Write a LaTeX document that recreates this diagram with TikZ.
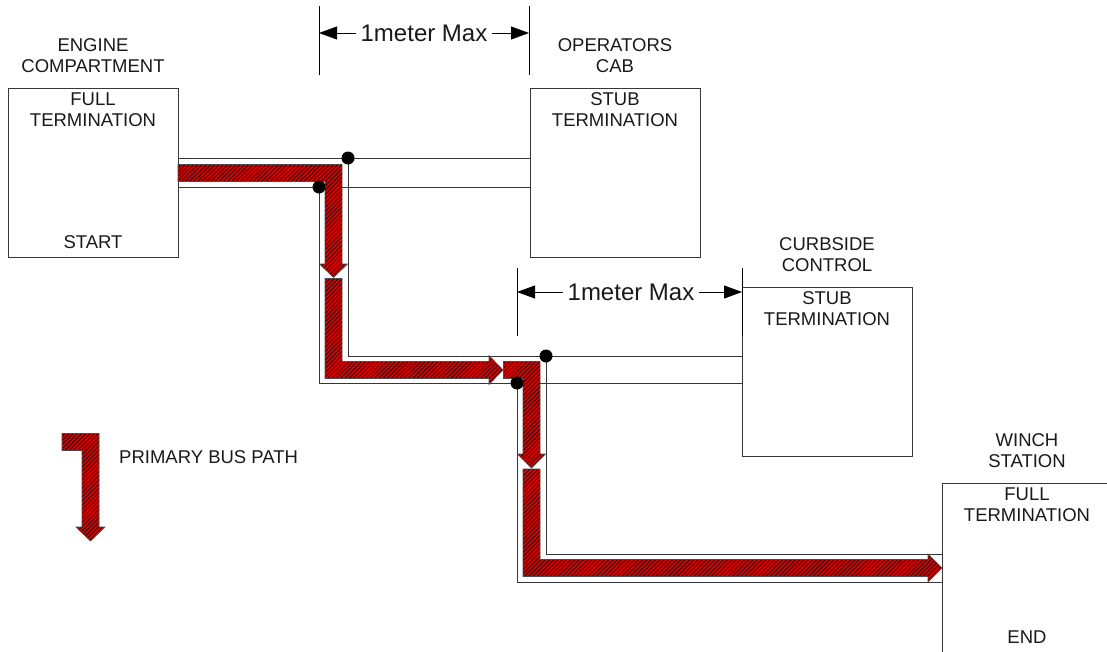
\documentclass[tikz,border=0pt]{standalone}
\usepackage{fontspec}
\setmainfont{Liberation Sans}
\usepackage{xcolor}
\usepackage{tikz}
\usetikzlibrary{arrows.meta, positioning, patterns.meta}
\definecolor{lineColor}{RGB}{55,55,55}
\definecolor{busColor}{RGB}{214,0,0}
\definecolor{hatchColor}{RGB}{40,0,0}
\tikzstyle{station} = [rectangle, minimum width=170pt, minimum height=169pt, draw=lineColor, line width=0.8pt, inner sep=0pt]
\tikzstyle{caption} = [align=center, font=\fontsize{18.5}{21}\selectfont, inner sep=0pt, text=black!90]
\tikzstyle{wire} = [draw=lineColor, line width=0.8pt]
\tikzstyle{tick} = [draw=black, line width=1pt]
\tikzstyle{dimlabel} = [font=\fontsize{24}{26}\selectfont, inner sep=4pt, text=black!90]
\tikzstyle{dimarrow} = [draw=black, line width=0.8pt, -{Triangle[length=18pt,width=13pt]}]
\tikzstyle{bus} = [draw=black!70, line width=0.6pt, preaction={fill=busColor}, pattern={Lines[angle=45,distance=3pt,line width=0.8pt]}, pattern color=hatchColor]
\tikzstyle{joint} = [circle, fill=black, inner sep=0pt, minimum size=13pt]

\begin{document}
\begin{tikzpicture}[x=1pt, y=-1pt, node distance=15pt]
    \path[use as bounding box] (0,0) rectangle (1107,651);
    \clip (0,0) rectangle (1107,651);

    % stations
    \node (engine) [station] at (93,172.5) {};
    \node (cab) [station] at (615,172.5) {};
    \node (curb) [station] at (827,371.5) {};
    \node (winch) [station] at (1027,567.5) {};

    \node (engineName) [caption, above=of engine] {ENGINE\\COMPARTMENT};
    \node (cabName) [caption, above=of cab] {OPERATORS\\CAB};
    \node (curbName) [caption, above=of curb] {CURBSIDE\\CONTROL};
    \node (winchName) [caption, above=of winch] {WINCH\\STATION};

    \node (engineTerm) [caption, below=5pt of engine.north] {FULL\\TERMINATION};
    \node (cabTerm) [caption, below=5pt of cab.north] {STUB\\TERMINATION};
    \node (curbTerm) [caption, below=5pt of curb.north] {STUB\\TERMINATION};
    \node (winchTerm) [caption, below=5pt of winch.north] {FULL\\TERMINATION};
    \node (engineEnd) [caption, above=9pt of engine.south] {START};
    \node (winchEnd) [caption, above=9pt of winch.south] {END};

    % 1 meter dimensions
    \coordinate (tickA) at (319,33);
    \coordinate (tickB) at (529,33);
    \coordinate (tickC) at (517,292);
    \coordinate (tickD) at (742,292);
    \draw[tick] (319,6) -- (319,75);
    \draw[tick] (529,6) -- (529,75);
    \draw[tick] (517,268) -- (517,336);
    \draw[tick] (742,268) -- (742,336);
    \node (dimTop) [dimlabel] at (424,33) {1meter Max};
    \node (dimMid) [dimlabel] at (631,292) {1meter Max};
    \draw[dimarrow] (dimTop.west) -- (tickA);
    \draw[dimarrow] (dimTop.east) -- (tickB);
    \draw[dimarrow] (dimMid.west) -- (tickC);
    \draw[dimarrow] (dimMid.east) -- (tickD);

    % bus wires
    \coordinate (jA1) at (348,158);
    \coordinate (jB1) at (319,187);
    \coordinate (jA2) at (546,356);
    \coordinate (jB2) at (517,383);
    \draw[wire] (engine.east |- jA1) -- (cab.west |- jA1);
    \draw[wire] (engine.east |- jB1) -- (cab.west |- jB1);
    \draw[wire] (jA1) |- (curb.west |- jA2);
    \draw[wire] (jB1) |- (curb.west |- jB2);
    \draw[wire] (jA2) |- (winch.west |- 0,554);
    \draw[wire] (jB2) |- (winch.west |- 0,582);

    % primary bus path
    \draw[bus] (178,164.5) -- (342,164.5) -- (342,264) -- (347.5,264) -- (333.5,277.5) -- (319.5,264) -- (325,264) -- (325,181.5) -- (178,181.5) -- cycle;
    \draw[bus] (325,278.5) -- (342,278.5) -- (342,361.5) -- (489,361.5) -- (489,355.5) -- (503,370) -- (489,384.5) -- (489,378.5) -- (325,378.5) -- cycle;
    \draw[bus] (503.5,361.5) -- (540,361.5) -- (540,454) -- (545.5,454) -- (531.5,468) -- (517.5,454) -- (523,454) -- (523,378.5) -- (503.5,378.5) -- cycle;
    \draw[bus] (523,469) -- (540,469) -- (540,559.5) -- (928,559.5) -- (928,554) -- (942,568) -- (928,582) -- (928,576.5) -- (523,576.5) -- cycle;

    \node (dotA1) [joint] at (jA1) {};
    \node (dotB1) [joint] at (jB1) {};
    \node (dotA2) [joint] at (jA2) {};
    \node (dotB2) [joint] at (jB2) {};

    % legend
    \draw[bus] (62,433.5) -- (99,433.5) -- (99,527) -- (105,527) -- (90.5,541) -- (76,527) -- (82,527) -- (82,450.5) -- (62,450.5) -- cycle;
    \node (legendText) [caption, anchor=west] at (119,457) {PRIMARY BUS PATH};
\end{tikzpicture}
\end{document}
